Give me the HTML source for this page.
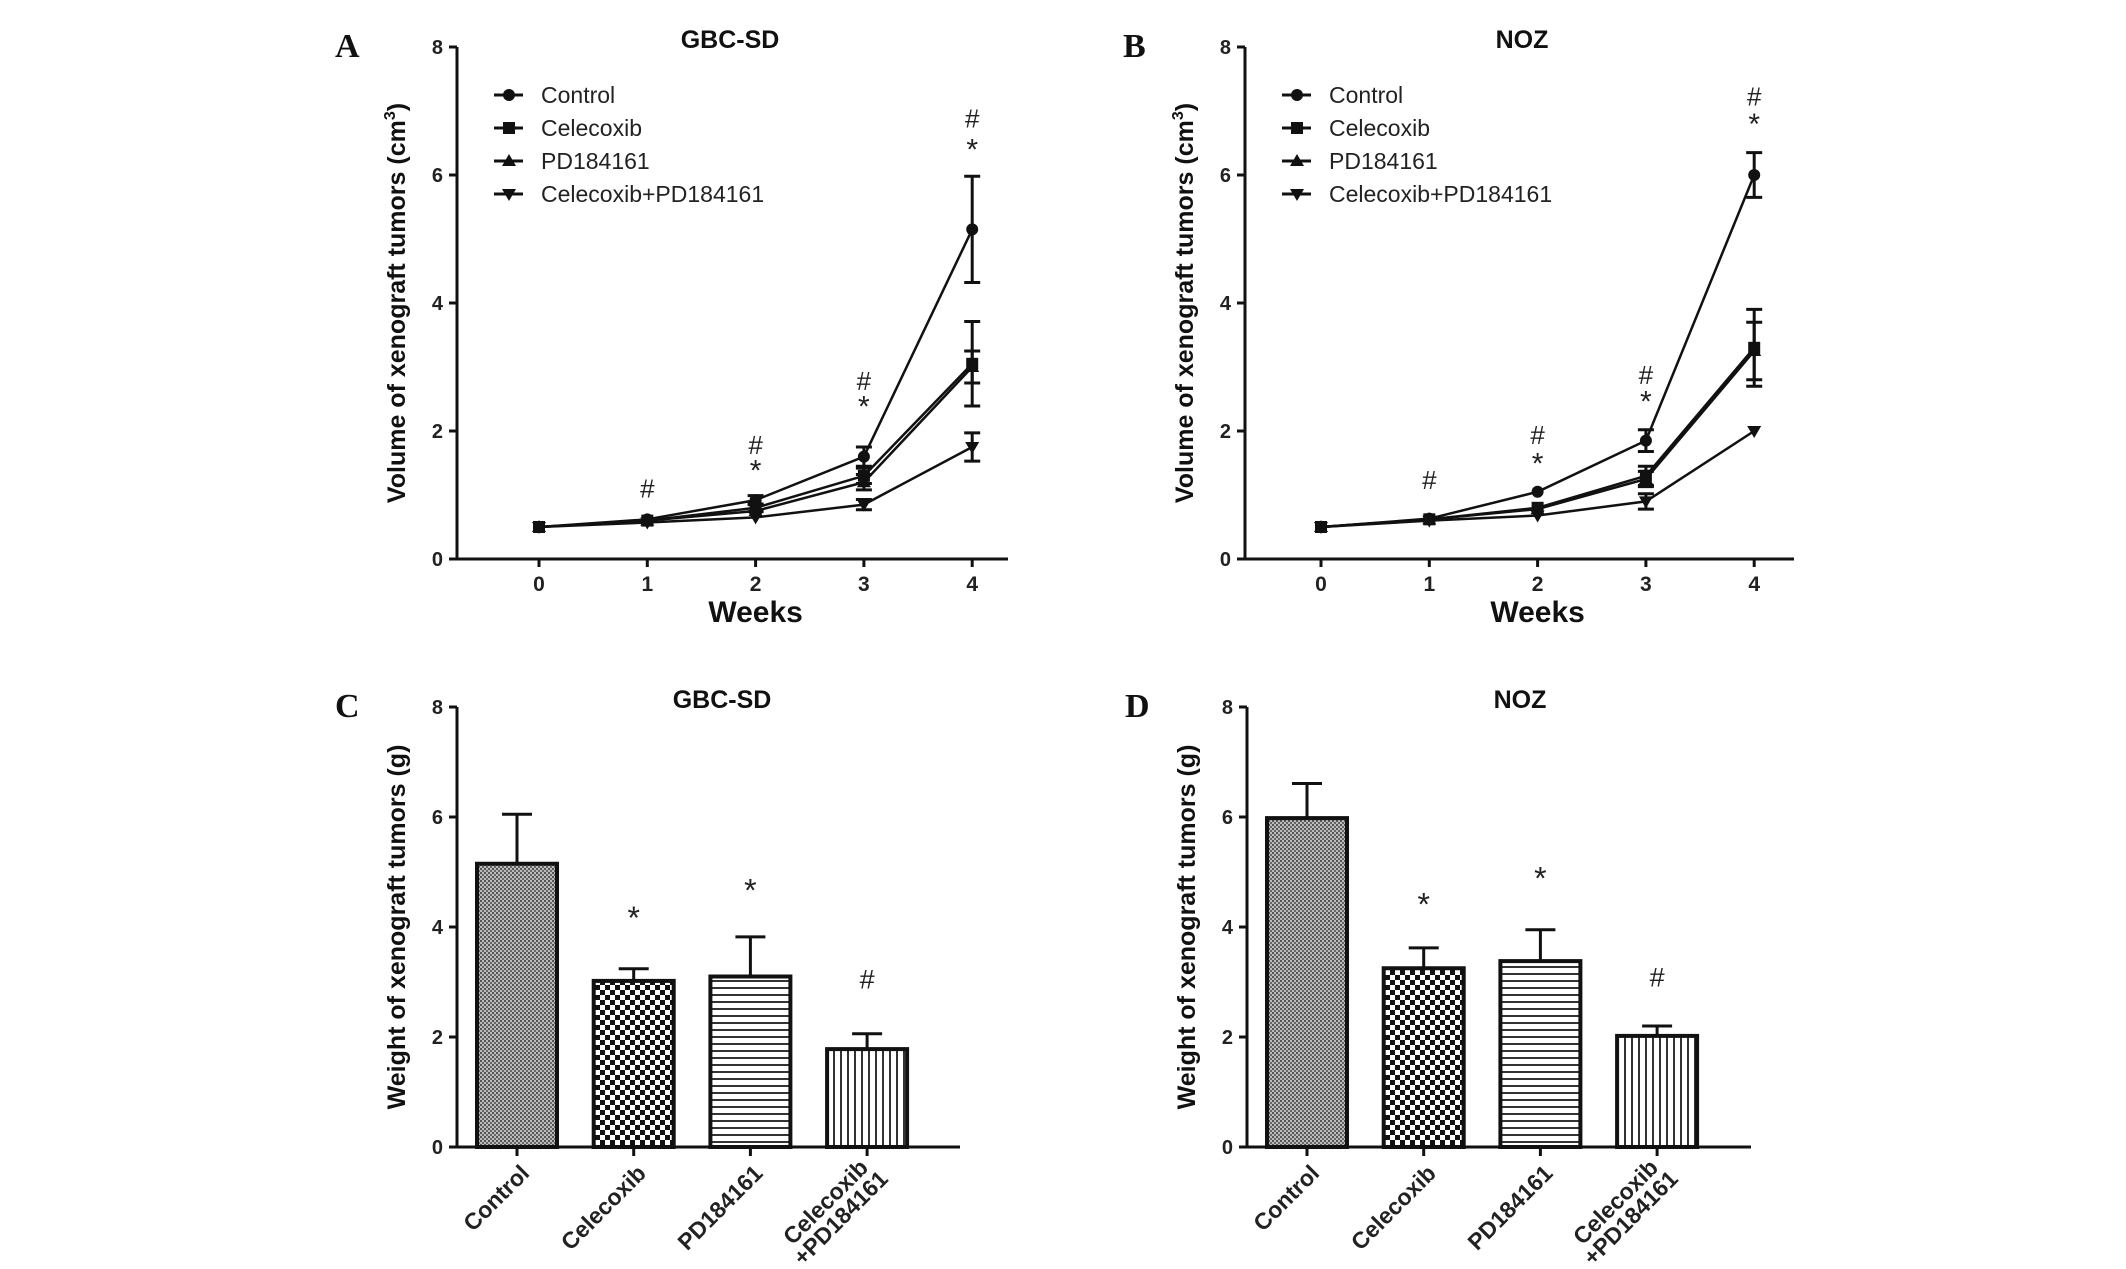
<!DOCTYPE html>
<html><head><meta charset="utf-8">
<style>
html,body{margin:0;padding:0;background:#fff;}
svg{display:block;font-family:"Liberation Sans",Arial,sans-serif;}
</style></head>
<body>
<svg id="fig" width="2126" height="1269" viewBox="0 0 2126 1269" xmlns="http://www.w3.org/2000/svg">
<defs>
<pattern id="pCtrl" width="4" height="4" patternUnits="userSpaceOnUse"><rect width="4" height="4" fill="#bbb"/><rect width="2" height="2" fill="#555"/><rect x="2" y="2" width="2" height="2" fill="#666"/></pattern>
<pattern id="pCele" width="10" height="10" patternUnits="userSpaceOnUse"><rect width="10" height="10" fill="#fff"/><rect width="5" height="5" fill="#111"/><rect x="5" y="5" width="5" height="5" fill="#111"/></pattern>
<pattern id="pPD" width="8" height="7" patternUnits="userSpaceOnUse"><rect width="8" height="7" fill="#fff"/><rect y="0" width="8" height="2" fill="#333"/></pattern>
<pattern id="pCombo" width="7" height="8" patternUnits="userSpaceOnUse"><rect width="7" height="8" fill="#fff"/><rect x="0" width="2" height="8" fill="#333"/></pattern>
</defs>
</svg>
<script>
// ---- data ----
const weeks = [0,1,2,3,4];
const seriesNames = ["Control","Celecoxib","PD184161","Celecoxib+PD184161"];
const aControl = [0.5,0.62,0.92,1.6,5.15];
const aControlErr = [0,0.04,0.07,0.15,0.83];
const aCele = [0.5,0.6,0.8,1.3,3.05];
const aCeleErr = [0,0.03,0.06,0.12,0.66];
const aPD = [0.5,0.6,0.75,1.2,3.0];
const aPDErr = [0,0.03,0.05,0.12,0.25];
const aCombo = [0.5,0.57,0.65,0.85,1.75];
const aComboErr = [0,0.02,0.04,0.08,0.22];
const bControl = [0.5,0.63,1.05,1.85,6.0];
const bControlErr = [0,0.03,0.04,0.17,0.35];
const bCele = [0.5,0.62,0.8,1.3,3.3];
const bCeleErr = [0,0.03,0.05,0.15,0.6];
const bPD = [0.5,0.62,0.78,1.25,3.25];
const bPDErr = [0,0.03,0.05,0.12,0.45];
const bCombo = [0.5,0.6,0.68,0.9,2.0];
const bComboErr = [0,0.02,0.04,0.12,0.02];
const aMarks = [["#",1,1.12],["#",2,1.8],["*",2,1.38],["#",3,2.8],["*",3,2.38],["#",4,6.9],["*",4,6.4]];
const bMarks = [["#",1,1.25],["#",2,1.95],["*",2,1.49],["#",3,2.89],["*",3,2.46],["#",4,7.24],["*",4,6.8]];
const barCats = ["Control","Celecoxib","PD184161","Celecoxib +PD184161"];
const cVals = [5.15,3.02,3.1,1.78];
const cErr = [0.9,0.22,0.72,0.28];
const dVals = [5.98,3.25,3.38,2.02];
const dErr = [0.63,0.37,0.57,0.18];
const cMarks = [["*",1,4.18],["*",2,4.68],["#",3,3.1]];
const dMarks = [["*",1,4.43],["*",2,4.9],["#",3,3.14]];
const yTicks = [0,2,4,6,8];

const NS="http://www.w3.org/2000/svg";
const svg=document.getElementById('fig');
function mk(tag,attrs,parent){const e=document.createElementNS(NS,tag);for(const k in attrs)e.setAttribute(k,attrs[k]);(parent||svg).appendChild(e);return e;}
function txt(s,x,y,attrs,parent){const e=mk('text',Object.assign({x:x,y:y},attrs),parent);e.textContent=s;return e;}

function axes(g,x0,x1,yTop,yBot,yLabel,title,letter,titleX){
  const ys=v=>yBot-(v/8)*(yBot-yTop);
  const ax=mk('line',{x1:x0,y1:yTop,x2:x0,y2:yBot,stroke:'#111','stroke-width':3},g);
  
  
  const bx=mk('line',{x1:x0,y1:yBot,x2:x1,y2:yBot,stroke:'#111','stroke-width':3},g);
  
  
  yTicks.forEach(t=>{
    mk('line',{x1:x0-8,y1:ys(t),x2:x0,y2:ys(t),stroke:'#111','stroke-width':3},g);
    const tl=txt(String(t),x0-14,ys(t)+7,{'text-anchor':'end','font-size':20,'font-weight':'bold',fill:'#222'},g);
    
    
  });
  const yl=txt('',0,0,{'text-anchor':'middle','font-size':25,'font-weight':'bold',fill:'#111',transform:`translate(${x0-52},${(yTop+yBot)/2}) rotate(-90)`},g);
  yl.innerHTML=yLabel;
  
  
  const tt=txt(title,titleX,yTop+1,{'text-anchor':'middle','font-size':25,'font-weight':'bold',fill:'#111'},g);
  
  
  const lt=txt(letter,x0-122,yTop+10,{'font-family':'Liberation Serif,serif','font-size':34,'font-weight':'bold',fill:'#111'},g);
  
  
  return ys;
}

function marker(g,i,x,y){
  if(i===0) mk('circle',{cx:x,cy:y,r:6,fill:'#111'},g);
  else if(i===1) mk('rect',{x:x-6,y:y-6,width:12,height:12,fill:'#111'},g);
  else if(i===2) mk('polygon',{points:`${x},${y-7} ${x+7},${y+5} ${x-7},${y+5}`,fill:'#111'},g);
  else mk('polygon',{points:`${x},${y+7} ${x+7},${y-5} ${x-7},${y-5}`,fill:'#111'},g);
}

function linePanel(name,x0,x1,yTop,yBot,ticksX,vals,errs,marks,letter,title,titleX){
  const g=mk('g',{});
  
  
  const ys=axes(g,x0,x1,yTop,yBot,'Volume of xenograft tumors (cm<tspan dy="-10" font-size="16">3</tspan><tspan dy="10">)</tspan>',title,letter,titleX);
  const xs=w=>ticksX[0]+w*(ticksX[1]-ticksX[0]);
  weeks.forEach(w=>{
    mk('line',{x1:xs(w),y1:yBot,x2:xs(w),y2:yBot+8,stroke:'#111','stroke-width':3},g);
    const tl=txt(String(w),xs(w),yBot+32,{'text-anchor':'middle','font-size':21,'font-weight':'bold',fill:'#222'},g);
    
    
  });
  const xl=txt('Weeks',xs(2),yBot+63,{'text-anchor':'middle','font-size':30,'font-weight':'bold',fill:'#111'},g);
  
  
  vals.forEach((s,i)=>{
    const sg=mk('g',{},g);
    
    
    mk('polyline',{points:s.map((v,k)=>xs(weeks[k])+','+ys(v)).join(' '),fill:'none',stroke:'#111','stroke-width':2.5},sg);
    s.forEach((v,k)=>{
      const e=errs[i][k];
      if(e>0.05){
        const x=xs(weeks[k]);
        mk('line',{x1:x,y1:ys(v-e),x2:x,y2:ys(v+e),stroke:'#111','stroke-width':3},sg);
        mk('line',{x1:x-8,y1:ys(v+e),x2:x+8,y2:ys(v+e),stroke:'#111','stroke-width':3},sg);
        mk('line',{x1:x-8,y1:ys(v-e),x2:x+8,y2:ys(v-e),stroke:'#111','stroke-width':3},sg);
      }
      marker(sg,i,xs(weeks[k]),ys(v));
    });
  });
  marks.forEach(m=>{
    const t=txt(m[0],xs(m[1]),ys(m[2])+10,{'text-anchor':'middle','font-size':m[0]==='*'?30:26,fill:'#222'},g);
    
    
  });
  const lg=mk('g',{},g);
  
  
  seriesNames.forEach((n,i)=>{
    const y=yTop+48+i*33;
    const lx=x0+37;
    mk('line',{x1:lx,y1:y,x2:lx+29,y2:y,stroke:'#111','stroke-width':3},lg);
    marker(lg,i,lx+15,y);
    const t=txt(n,lx+47,y+8,{'font-size':23,fill:'#222'},lg);
    
    
  });
}

function barPanel(name,x0,x1,yTop,yBot,centers,vals,errs,marks,letter,title,titleX){
  const g=mk('g',{});
  
  
  const ys=axes(g,x0,x1,yTop,yBot,'Weight of xenograft tumors (g)',title,letter,titleX);
  const xs=i=>centers[0]+i*(centers[1]-centers[0]);
  const fills=['url(#pCtrl)','url(#pCele)','url(#pPD)','url(#pCombo)'];
  const bw=80;
  vals.forEach((v,i)=>{
    const x=xs(i);
    const e=errs[i];
    mk('line',{x1:x,y1:ys(v),x2:x,y2:ys(v+e),stroke:'#111','stroke-width':3},g);
    mk('line',{x1:x-15,y1:ys(v+e),x2:x+15,y2:ys(v+e),stroke:'#111','stroke-width':3},g);
    const r=mk('rect',{x:x-bw/2,y:ys(v),width:bw,height:yBot-ys(v),fill:fills[i],stroke:'#111','stroke-width':4},g);
    
    
    mk('line',{x1:x,y1:yBot,x2:x,y2:yBot+9,stroke:'#111','stroke-width':3},g);
    const parts=barCats[i].split(' ');
    const lab=mk('text',{'font-size':23,'font-weight':'bold',fill:'#222','text-anchor':'end',transform:`translate(${x+8},${yBot+22}) rotate(-45)`},g);
    
    
    parts.forEach((p,k)=>{const ts=mk('tspan',{x:parts.length>1?(k===0?-4:2):0,dy:k===0?(parts.length>1?-4:8):22},lab);ts.textContent=p;});
  });
  marks.forEach(m=>{
    const t=txt(m[0],xs(m[1]),ys(m[2])+12,{'text-anchor':'middle','font-size':m[0]==='*'?32:27,fill:'#222'},g);
    
    
  });
}

linePanel('panel-a-line-chart',457,1008,47,559,[539,647.3],[aControl,aCele,aPD,aCombo],[aControlErr,aCeleErr,aPDErr,aComboErr],aMarks,'A','GBC-SD',730);
linePanel('panel-b-line-chart',1245,1794,47,559,[1321,1429.3],[bControl,bCele,bPD,bCombo],[bControlErr,bCeleErr,bPDErr,bComboErr],bMarks,'B','NOZ',1522);
barPanel('panel-c-bar-chart',457,960,707,1147,[517,633.7],cVals,cErr,cMarks,'C','GBC-SD',722);
barPanel('panel-d-bar-chart',1247,1751,707,1147,[1307,1423.7],dVals,dErr,dMarks,'D','NOZ',1520);
</script>
</body></html>
